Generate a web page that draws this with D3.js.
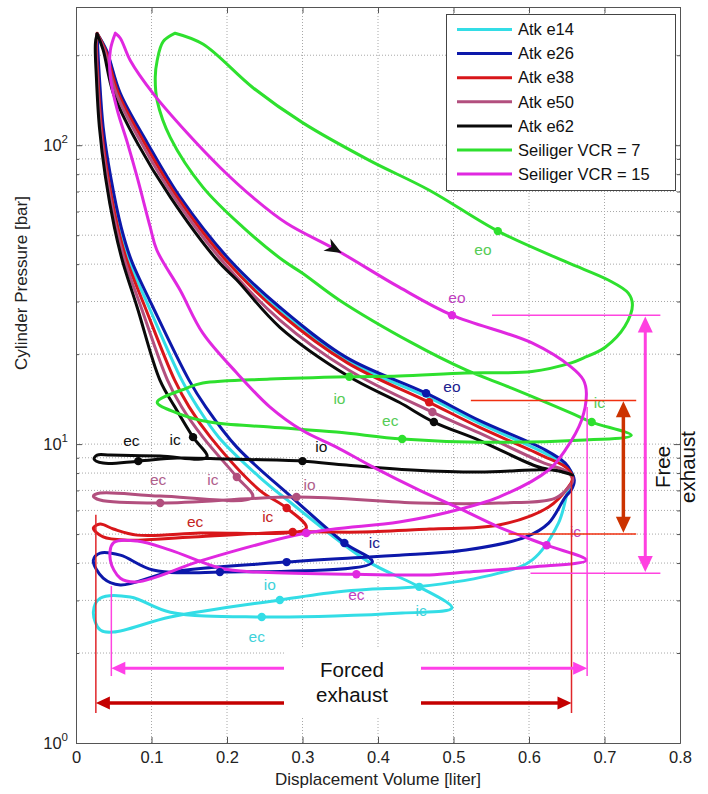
<!DOCTYPE html>
<html><head><meta charset="utf-8">
<script src="https://cdn.jsdelivr.net/npm/d3@7"></script>
<style>body{margin:0;background:#fff}svg{display:block;font-family:"Liberation Sans",Arial,Helvetica,sans-serif}</style>
</head><body><svg id="c" width="708" height="794"></svg>
<script>
// ---------------- DATA ----------------
const xTicks = [0,0.1,0.2,0.3,0.4,0.5,0.6,0.7,0.8];
const xTickLabels = ["0","0.1","0.2","0.3","0.4","0.5","0.6","0.7","0.8"];
const yDecades = [1,10,100];
const yDecadeExp = ["0","1","2"];
const yMinor = [2,3,4,5,6,7,8,9,20,30,40,50,60,70,80,90,200];
const seriesNames = ["Atk e14","Atk e26","Atk e38","Atk e50","Atk e62","Seiliger VCR = 7","Seiliger VCR = 15"];
const seriesColors = ["#33dde6","#0c18aa","#d8161a","#b24f7e","#0a0a0a","#2ee02e","#e028e0"];
const labelColors = ["#3fd2da","#20208e","#c42424","#b0608c","#111111","#55cc55","#c040c0"];

// Atkinson cycles [V liter, p bar]
const e14 = [[0.028,236],[0.0402,208],[0.0574,149],[0.0917,102],[0.135,67],[0.201,41.2],[0.27,28.1],[0.358,19.1],[0.465,14.4],[0.534,11.76],[0.621,9.33],[0.65,8.44],[0.659,7.64],[0.652,7.02],[0.639,5.44],[0.604,4.09],[0.56,3.7],[0.452,3.33],[0.3885,3.27],[0.345,3.2],[0.27,3.01],[0.125,2.64],[0.0495,2.35],[0.032,2.39],[0.023,2.74],[0.032,3.05],[0.072,3.08],[0.125,2.74],[0.246,2.64],[0.432,2.72],[0.498,2.83],[0.4545,3.33],[0.386,4.06],[0.28,6.5],[0.243,7.76],[0.189,10.55],[0.161,13.3],[0.14,16.4],[0.0967,28.7],[0.0703,41.2],[0.0575,53.2],[0.0443,78.2],[0.0348,115],[0.03,169],[0.0278,219],[0.028,236]];
const e26 = [[0.028,236],[0.0402,208],[0.0587,149],[0.0943,102],[0.138,67],[0.204,41.2],[0.27,28.7],[0.358,19.5],[0.4637,14.8],[0.534,12.0],[0.622,9.55],[0.648,8.64],[0.656,8.06],[0.66,7.58],[0.656,7.02],[0.648,6.65],[0.626,5.44],[0.596,4.89],[0.5165,4.42],[0.428,4.25],[0.3885,4.19],[0.279,4.03],[0.125,3.73],[0.0587,3.38],[0.036,3.56],[0.023,4.09],[0.032,4.32],[0.0587,4.25],[0.102,3.79],[0.1906,3.73],[0.3925,4.03],[0.3555,4.67],[0.287,6.6],[0.213,9.77],[0.172,13.3],[0.1495,16.4],[0.102,28.7],[0.0733,41.2],[0.0598,53.2],[0.046,78.2],[0.036,115],[0.031,169],[0.0285,219],[0.028,236]];
const e38 = [[0.028,237],[0.0389,208],[0.0561,149],[0.0904,102],[0.134,67],[0.1985,41.2],[0.27,27.4],[0.3595,18.7],[0.4677,13.8],[0.534,11.4],[0.619,9.12],[0.65,8.32],[0.658,7.7],[0.652,7.18],[0.626,6.16],[0.56,5.36],[0.468,5.2],[0.379,5.08],[0.287,5.08],[0.155,4.89],[0.068,4.77],[0.036,4.89],[0.023,5.24],[0.032,5.4],[0.0495,5.2],[0.081,4.96],[0.164,5.04],[0.305,5.24],[0.279,6.11],[0.243,7.02],[0.178,10.55],[0.15,13.3],[0.1305,16.4],[0.0915,28.7],[0.0673,41.2],[0.0553,53.2],[0.0425,78.2],[0.0335,115],[0.029,169],[0.027,219],[0.028,237]];
const e50 = [[0.028,235],[0.0376,208],[0.0534,149],[0.0864,102],[0.13,67],[0.193,41.2],[0.27,26],[0.361,17.7],[0.472,12.8],[0.534,10.9],[0.617,8.7],[0.651,8.06],[0.658,7.58],[0.654,7.24],[0.635,6.6],[0.56,6.35],[0.4545,6.35],[0.292,6.65],[0.1115,6.35],[0.032,6.5],[0.023,6.7],[0.032,6.86],[0.1115,6.7],[0.234,6.65],[0.213,7.76],[0.168,10.55],[0.14,13.3],[0.121,16.4],[0.0862,28.7],[0.0643,41.2],[0.053,53.2],[0.0408,78.2],[0.0322,115],[0.028,169],[0.0265,219],[0.028,235]];
const e62 = [[0.028,236],[0.036,208],[0.0495,149],[0.081,102],[0.125,67],[0.187,41.2],[0.213,35.4],[0.27,24.6],[0.362,16.8],[0.428,13.8],[0.474,11.85],[0.534,10.3],[0.613,8.38],[0.646,8.06],[0.658,7.88],[0.633,8.19],[0.604,8.19],[0.534,8.06],[0.445,8.19],[0.358,8.51],[0.3,8.77],[0.2,8.91],[0.134,8.98],[0.0825,8.77],[0.036,8.64],[0.024,8.91],[0.028,9.19],[0.0455,9.19],[0.1115,9.12],[0.1735,9.05],[0.155,10.55],[0.131,13.3],[0.111,16.4],[0.081,28.7],[0.0613,41.2],[0.0508,53.2],[0.039,78.2],[0.031,115],[0.027,169],[0.0257,219],[0.028,236]];
// Seiliger cycles
const vcr7 = [[0.1313,237],[0.168,218],[0.234,156],[0.3,119],[0.3885,89],[0.468,70.7],[0.5587,51.6],[0.65,40.6],[0.705,35.4],[0.7315,32],[0.737,29.2],[0.727,24.8],[0.701,21.1],[0.672,19.4],[0.656,18.7],[0.604,17.5],[0.5165,17.3],[0.428,16.9],[0.362,16.8],[0.257,16.5],[0.168,16.0],[0.147,15.4],[0.1075,13.8],[0.134,12.7],[0.177,11.85],[0.257,11.4],[0.345,10.97],[0.432,10.4],[0.534,10.15],[0.666,10.3],[0.7355,10.7],[0.683,11.85],[0.656,12.7],[0.577,15.4],[0.5165,17.7],[0.445,21.8],[0.349,30.3],[0.3,37.3],[0.274,41.2],[0.221,53.2],[0.168,72.4],[0.125,106],[0.1075,141],[0.105,169],[0.1075,192],[0.1154,222],[0.1313,237]];
const vcr15 = [[0.0521,237],[0.0587,228],[0.0719,192],[0.102,149],[0.147,110],[0.1906,84.4],[0.234,67],[0.279,54.8],[0.345,44.6],[0.428,33.5],[0.498,27],[0.604,21.8],[0.656,18.1],[0.672,16.4],[0.676,14.8],[0.6695,12.0],[0.648,9.55],[0.626,8.19],[0.56,6.65],[0.494,5.93],[0.428,5.49],[0.305,5.04],[0.168,4.09],[0.081,3.46],[0.0587,3.56],[0.0455,4.09],[0.0495,4.67],[0.081,4.74],[0.125,4.42],[0.1906,3.85],[0.2394,3.73],[0.3714,3.67],[0.468,3.65],[0.5165,3.73],[0.604,3.88],[0.676,4.09],[0.6233,4.59],[0.56,5.28],[0.507,6.11],[0.4545,7.02],[0.3885,8.51],[0.345,9.77],[0.3,11.1],[0.257,13.3],[0.213,17.3],[0.168,23.5],[0.138,32.7],[0.107,44.6],[0.0983,53.2],[0.081,78.2],[0.068,102],[0.0547,131],[0.0455,169],[0.0455,208],[0.0521,237]];

// valve event markers
const e14Marks = [[0.27,3.01],[0.246,2.64],[0.4545,3.33]];
const e26Marks = [[0.1906,3.73],[0.279,4.03],[0.3555,4.67],[0.4637,14.8]];
const e38Marks = [[0.279,6.11],[0.287,5.08],[0.4677,13.8]];
const e50Marks = [[0.1115,6.35],[0.213,7.76],[0.292,6.65],[0.472,12.8]];
const e62Marks = [[0.0825,8.77],[0.155,10.55],[0.3,8.77],[0.474,11.85]];
const vcr7Marks = [[0.5587,51.6],[0.362,16.8],[0.432,10.4],[0.683,11.85]];
const vcr15Marks = [[0.498,27],[0.305,5.04],[0.3714,3.67],[0.6233,4.59]];

// valve event labels [text, V, p]
const e14Lbl = [["io",0.2566,3.38],["ec",0.2394,2.26],["ic",0.4571,2.76]];
const e26Lbl = [["ic",0.3951,4.67],["eo",0.498,15.5]];
const e38Lbl = [["ec",0.1577,5.48],["ic",0.254,5.7]];
const e50Lbl = [["ec",0.1088,7.58],["ic",0.1814,7.58],["io",0.3094,7.3]];
const e62Lbl = [["ec",0.0733,10.2],["ic",0.1313,10.3],["io",0.325,9.77]];
const vcr7Lbl = [["eo",0.539,44.6],["io",0.3489,14.2],["ec",0.4162,11.9],["ic",0.6933,13.7]];
const vcr15Lbl = [["eo",0.5046,30.8],["ec",0.3714,3.12],["ic",0.6616,5.08]];

// annotations (data units)
const redVert = [[0.0263,5.8,1.26],[0.6563,7.8,1.26]];      // V, pTop, pBottom
const magVert = [[0.0468,3.35,1.675],[0.677,13.3,1.675]];
const redHoriz = [[14.0,0.523,0.742],[5.0,0.573,0.742]];      // p, V1, V2
const magHoriz = [[27.0,0.551,0.774],[3.7,0.602,0.774]];
const redArrowV = [0.725,13.9,5.05];
const magArrowV = [0.754,26.7,3.73];
const forcedMag = [1.78,0.0468,0.677];
const forcedRed = [1.36,0.0263,0.6563];

// ---------------- DRAW ----------------
const svg = d3.select("#c");
const L=76,R=680,T=7,B=743;
const x = d3.scaleLinear().domain([0,0.8]).range([L,R]);
const y = d3.scaleLog().domain([1,290]).range([B,T]);

svg.append("defs").append("clipPath").attr("id","pc").append("rect")
  .attr("x",L).attr("y",T).attr("width",R-L).attr("height",B-T);

// grid
const grid = svg.append("g").attr("stroke","#a8a8a8").attr("stroke-width",1).attr("stroke-dasharray","1,2");
grid.selectAll(".gx").data(xTicks.slice(1,-1)).join("line")
  .attr("x1",d=>x(d)).attr("x2",d=>x(d)).attr("y1",T).attr("y2",B);
grid.selectAll(".gy").data(yMinor.concat([10,100])).join("line")
  .attr("y1",d=>y(d)).attr("y2",d=>y(d)).attr("x1",L).attr("x2",R);

// axes
function styleAxis(g){ g.selectAll(".domain").attr("stroke","#555"); g.selectAll(".tick line").attr("stroke","#555"); }
svg.append("g").attr("transform",`translate(0,${B})`)
  .call(d3.axisBottom(x).tickValues(xTicks).tickFormat((d,i)=>xTickLabels[i]).tickSizeInner(-6).tickSizeOuter(0).tickPadding(8))
  .call(styleAxis)
  .call(g=>g.selectAll("text").attr("font-size",16.5).attr("fill","#222").attr("font-family","Liberation Sans, Arial, sans-serif"));
svg.append("g").attr("transform",`translate(0,${T})`)
  .call(d3.axisTop(x).tickValues(xTicks).tickFormat("").tickSizeInner(-6).tickSizeOuter(0)).call(styleAxis);
svg.append("g").attr("transform",`translate(${L},0)`)
  .call(d3.axisLeft(y).tickValues(yDecades).tickFormat("").tickSizeInner(-6).tickSizeOuter(0)).call(styleAxis);
svg.append("g").attr("transform",`translate(${L},0)`)
  .call(d3.axisLeft(y).tickValues(yMinor).tickFormat("").tickSizeInner(-3).tickSizeOuter(0)).call(styleAxis);
svg.append("g").attr("transform",`translate(${R},0)`)
  .call(d3.axisRight(y).tickValues(yDecades).tickFormat("").tickSizeInner(-6).tickSizeOuter(0)).call(styleAxis);
svg.append("g").attr("transform",`translate(${R},0)`)
  .call(d3.axisRight(y).tickValues(yMinor).tickFormat("").tickSizeInner(-3).tickSizeOuter(0)).call(styleAxis);

// y decade labels
const yl = svg.append("g").attr("fill","#222");
yDecades.forEach((d,i)=>{
  const t = yl.append("text").attr("x",L-8).attr("y",y(d)+6).attr("text-anchor","end").attr("font-size",16.5);
  t.append("tspan").text("10");
  t.append("tspan").attr("dy",-8).attr("font-size",11.5).text(yDecadeExp[i]);
});

// axis titles
svg.append("text").attr("x",(L+R)/2).attr("y",785).attr("text-anchor","middle").attr("font-size",17).attr("fill","#222")
  .text("Displacement Volume [liter]");
svg.append("text").attr("transform","translate(27,283) rotate(-90)").attr("text-anchor","middle").attr("font-size",17).attr("fill","#222")
  .text("Cylinder Pressure [bar]");

// curves
const allData = [e14,e26,e38,e50,e62,vcr7,vcr15];
const allMarks = [e14Marks,e26Marks,e38Marks,e50Marks,e62Marks,vcr7Marks,vcr15Marks];
const allLbl = [e14Lbl,e26Lbl,e38Lbl,e50Lbl,e62Lbl,vcr7Lbl,vcr15Lbl];
const line = d3.line().x(d=>x(d[0])).y(d=>y(d[1])).curve(d3.curveCatmullRom.alpha(0.5));
const plot = svg.append("g").attr("clip-path","url(#pc)");
allData.forEach((data,i)=>{
  plot.append("path").datum(data).attr("d",line).attr("fill","none")
    .attr("stroke",seriesColors[i]).attr("stroke-width",3).attr("stroke-linejoin","round").attr("stroke-linecap","round");
});
// labels
allLbl.forEach((lbls,i)=>{
  plot.selectAll(null).data(lbls).join("text")
    .attr("x",d=>x(d[1])).attr("y",d=>y(d[2])).attr("dy","0.32em").attr("text-anchor","middle")
    .attr("font-size",15.5).attr("fill",labelColors[i]).text(d=>d[0]);
});
// markers
allMarks.forEach((m,i)=>{
  plot.selectAll(null).data(m).join("circle")
    .attr("cx",d=>x(d[0])).attr("cy",d=>y(d[1])).attr("r",4.2).attr("fill",seriesColors[i]);
});

// arrow helper
function head(g,tx,ty,ang,len,hw,color,notch){
  const c=Math.cos(ang), s=Math.sin(ang);
  const bx=tx-len*c, by=ty-len*s;
  const p1=[bx+hw*s, by-hw*c], p2=[bx-hw*s, by+hw*c];
  const n=[tx-(len*(notch||1))*c, ty-(len*(notch||1))*s];
  g.append("path").attr("d",`M${tx},${ty}L${p1[0]},${p1[1]}L${n[0]},${n[1]}L${p2[0]},${p2[1]}Z`).attr("fill",color);
}
// direction arrow on VCR15 expansion
(function(){
  const k=8, a=vcr15[k-1], b=vcr15[k+1], p=vcr15[k];
  const ang=Math.atan2(y(b[1])-y(a[1]), x(b[0])-x(a[0]));
  head(plot, x(p[0])+6*Math.cos(ang), y(p[1])+6*Math.sin(ang), ang, 17, 7, "#111", 0.7);
})();

// annotations
const ann = svg.append("g");
redVert.forEach(d=>ann.append("line").attr("x1",x(d[0])).attr("x2",x(d[0])).attr("y1",y(d[1])).attr("y2",y(d[2])).attr("stroke","#e0262a").attr("stroke-width",1.5));
magVert.forEach(d=>ann.append("line").attr("x1",x(d[0])).attr("x2",x(d[0])).attr("y1",y(d[1])).attr("y2",y(d[2])).attr("stroke","#ff44e0").attr("stroke-width",1.5));
redHoriz.forEach(d=>ann.append("line").attr("y1",y(d[0])).attr("y2",y(d[0])).attr("x1",x(d[1])).attr("x2",x(d[2])).attr("stroke","#f03010").attr("stroke-width",1.5));
magHoriz.forEach(d=>ann.append("line").attr("y1",y(d[0])).attr("y2",y(d[0])).attr("x1",x(d[1])).attr("x2",x(d[2])).attr("stroke","#ff44e0").attr("stroke-width",1.5));

function dblV(a,color,w){
  const X=x(a[0]), y1=y(a[1]), y2=y(a[2]);
  ann.append("line").attr("x1",X).attr("x2",X).attr("y1",y1+12).attr("y2",y2-12).attr("stroke",color).attr("stroke-width",w);
  head(ann,X,y1,-Math.PI/2,16,7.5,color); head(ann,X,y2,Math.PI/2,16,7.5,color);
}
function dblH(a,color,w){
  const Y=y(a[0]), x1=x(a[1]), x2=x(a[2]);
  ann.append("line").attr("y1",Y).attr("y2",Y).attr("x1",x1+12).attr("x2",x2-12).attr("stroke",color).attr("stroke-width",w);
  head(ann,x1,Y,Math.PI,14,6.5,color); head(ann,x2,Y,0,14,6.5,color);
}
dblV(redArrowV,"#cc3300",3.5);
dblV(magArrowV,"#ff40e0",3);
dblH(forcedMag,"#ff40e8",3);
dblH(forcedRed,"#c40000",3.5);

// Forced exhaust box
ann.append("rect").attr("x",284).attr("y",648).attr("width",137).attr("height",70).attr("fill","#fff");
const fe = ann.append("text").attr("text-anchor","middle").attr("font-size",20.5).attr("fill","#111");
fe.append("tspan").attr("x",352).attr("y",677).text("Forced");
fe.append("tspan").attr("x",352).attr("y",702).text("exhaust");

// Free exhaust
const fr = ann.append("text").attr("transform","translate(675,467) rotate(-90)").attr("text-anchor","middle").attr("font-size",20.5).attr("fill","#111");
fr.append("tspan").attr("x",0).attr("y",-5).text("Free");
fr.append("tspan").attr("x",0).attr("y",20).text("exhaust");

// legend
const lg = svg.append("g");
lg.append("rect").attr("x",446.5).attr("y",14.5).attr("width",229).attr("height",176).attr("fill","#fff").attr("stroke","#444").attr("stroke-width",1);
seriesNames.forEach((n,i)=>{
  const yy = 29.5 + i*24.1;
  lg.append("line").attr("x1",457).attr("x2",512).attr("y1",yy).attr("y2",yy).attr("stroke",seriesColors[i]).attr("stroke-width",3);
  lg.append("text").attr("x",518).attr("y",yy).attr("dy","0.35em").attr("font-size",16.5).attr("fill","#111").text(n);
});
</script></body></html>
